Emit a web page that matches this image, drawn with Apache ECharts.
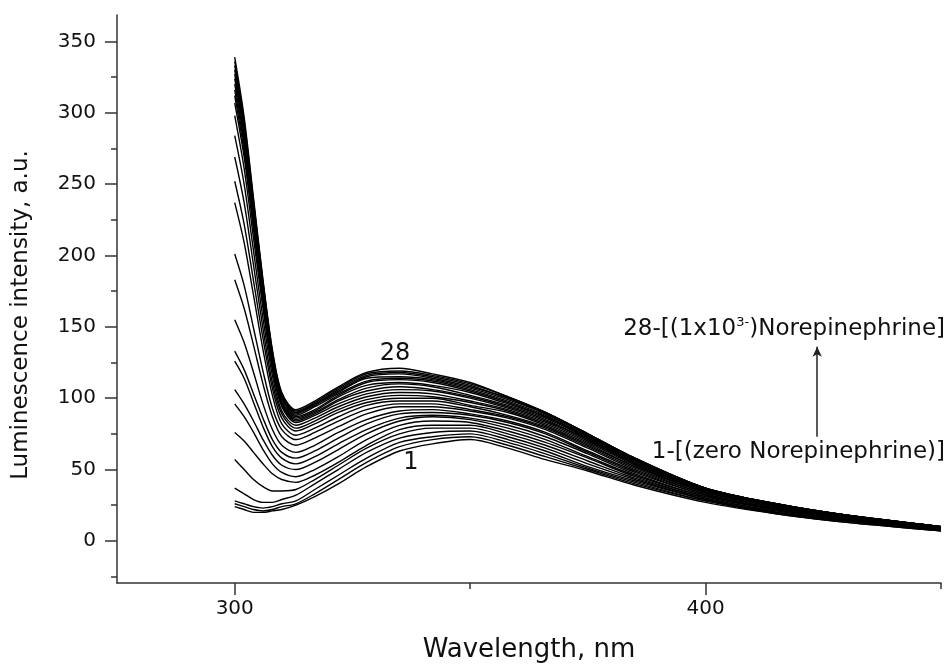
<!DOCTYPE html>
<html>
<head>
<meta charset="utf-8">
<script src="https://cdn.jsdelivr.net/npm/echarts@6/dist/echarts.min.js"></script>
<style>
  html, body { margin: 0; padding: 0; background: #fff; }
  #spectra-chart { width: 952px; height: 667px; }
</style>
</head>
<body>
<div id="spectra-chart"></div>
<script>
// sampled wavelengths (nm) shared by every spectrum
const wavelengths = [300, 302, 304, 306, 308, 310, 313, 317, 322, 328, 335, 342, 350, 358, 366, 375, 385, 400, 415, 430, 450];

// luminescence intensity (a.u.) for spectra 1 (zero) ... 28 (1x10^-3)
const spectra = [
  [24, 22, 20, 20, 21, 22, 25, 31, 40, 52, 63, 68, 71, 65, 57, 49, 39, 27, 19, 13, 7],
  [26, 24, 22, 21, 22, 24, 26, 33, 43, 55, 66, 71, 73, 67, 59, 50, 40, 28, 19, 13, 7],
  [28, 26, 24, 23, 24, 26, 28, 36, 46, 58, 69, 73, 75, 69, 61, 51, 41, 28, 20, 14, 7],
  [37, 33, 29, 27, 27, 29, 32, 40, 50, 62, 72, 76, 77, 71, 63, 52, 42, 29, 20, 14, 8],
  [57, 50, 43, 38, 35, 35, 36, 43, 53, 65, 75, 79, 79, 73, 65, 54, 43, 29, 20, 14, 8],
  [76, 70, 62, 54, 47, 43, 41, 46, 55, 67, 78, 81, 81, 75, 67, 56, 44, 30, 21, 14, 8],
  [96, 87, 76, 64, 54, 48, 45, 50, 59, 71, 81, 84, 83, 77, 69, 58, 45, 30, 21, 14, 8],
  [106, 96, 84, 71, 60, 53, 50, 55, 64, 75, 84, 87, 85, 79, 71, 59, 46, 31, 22, 15, 8],
  [126, 114, 97, 80, 66, 58, 54, 59, 68, 78, 86, 88, 86, 81, 73, 61, 47, 31, 22, 15, 8],
  [133, 120, 103, 86, 71, 62, 58, 63, 72, 82, 89, 90, 88, 83, 75, 62, 48, 32, 22, 15, 8],
  [155, 139, 118, 96, 78, 67, 62, 67, 76, 85, 91, 92, 89, 84, 76, 63, 49, 32, 23, 16, 8],
  [183, 163, 137, 110, 87, 73, 67, 72, 80, 89, 94, 94, 91, 86, 78, 65, 50, 33, 23, 16, 8],
  [201, 179, 149, 119, 93, 78, 71, 76, 84, 92, 96, 96, 92, 87, 79, 66, 51, 33, 23, 16, 9],
  [237, 209, 172, 134, 102, 82, 74, 79, 87, 95, 98, 98, 94, 88, 80, 67, 52, 34, 24, 16, 9],
  [252, 222, 182, 142, 107, 86, 77, 82, 90, 97, 100, 100, 95, 90, 81, 68, 52, 34, 24, 17, 9],
  [269, 237, 193, 149, 111, 89, 79, 84, 92, 99, 102, 101, 97, 91, 82, 69, 53, 34, 24, 17, 9],
  [284, 250, 203, 156, 116, 91, 81, 86, 94, 101, 104, 103, 98, 92, 83, 70, 54, 35, 24, 17, 9],
  [298, 261, 212, 163, 120, 94, 83, 88, 96, 103, 106, 105, 100, 93, 84, 71, 54, 35, 25, 17, 9],
  [307, 269, 218, 167, 122, 95, 84, 89, 98, 105, 108, 106, 101, 94, 85, 71, 55, 35, 25, 17, 9],
  [312, 273, 221, 169, 124, 96, 85, 90, 99, 107, 110, 108, 102, 95, 86, 72, 55, 36, 25, 17, 9],
  [316, 277, 224, 171, 125, 97, 86, 91, 101, 109, 111, 109, 104, 96, 87, 72, 56, 36, 25, 18, 10],
  [320, 280, 227, 173, 127, 98, 87, 92, 102, 111, 113, 111, 105, 97, 87, 73, 56, 36, 25, 18, 10],
  [324, 284, 230, 175, 128, 100, 88, 94, 103, 112, 114, 112, 106, 98, 88, 73, 57, 36, 25, 18, 10],
  [327, 287, 232, 177, 129, 101, 89, 95, 104, 114, 115, 113, 107, 99, 89, 74, 57, 37, 26, 18, 10],
  [330, 289, 234, 179, 131, 102, 90, 96, 105, 115, 117, 114, 108, 100, 89, 74, 57, 37, 26, 18, 10],
  [333, 292, 236, 180, 131, 102, 90, 96, 106, 116, 118, 115, 109, 100, 90, 75, 58, 37, 26, 18, 10],
  [336, 294, 238, 182, 133, 103, 91, 97, 107, 117, 119, 116, 110, 101, 90, 75, 58, 37, 26, 18, 10],
  [339, 297, 240, 183, 134, 104, 92, 98, 108, 118, 121, 117, 111, 101, 90, 75, 58, 37, 26, 18, 10]
];

// tick positions
const xMajorTicks = [300, 400];
const xMinorTicks = [350, 450];
const yMajorTicks = [0, 50, 100, 150, 200, 250, 300, 350];
const yMinorTicks = [-25, 25, 75, 125, 175, 225, 275, 325];

// arrow between the two legend notes (wavelength, intensity)
const arrowFrom = [423.7, 73];
const arrowTo = [423.7, 136];

const chartDom = document.getElementById('spectra-chart');
const chart = echarts.init(chartDom, null, { renderer: 'canvas' });

const FONT = 'DejaVu Sans';
const INK = '#111';
const AXIS = '#333';

const series = spectra.map(function (values, i) {
  const s = {
    name: String(i + 1),
    type: 'line',
    xAxisIndex: 0,
    yAxisIndex: 0,
    data: wavelengths.map(function (w, k) { return [w, values[k]]; }),
    showSymbol: false,
    smooth: 0.3,
    silent: true,
    lineStyle: { color: '#000', width: 1.4 }
  };
  if (i === spectra.length - 1) {
    s.markLine = {
      silent: true,
      symbol: ['none', 'arrow'],
      symbolSize: [7, 10],
      label: { show: false },
      lineStyle: { color: '#222', width: 1.5, type: 'solid' },
      data: [[{ coord: arrowFrom }, { coord: arrowTo }]]
    };
  }
  return s;
});

let option;

option = {
  animation: false,
  backgroundColor: '#fff',
  grid: {
    left: 117,
    right: 11,
    top: 15,
    bottom: 84,
    containLabel: false,
    outerBoundsMode: 'none'
  },
  xAxis: [
    {
      type: 'value',
      min: 275,
      max: 450,
      position: 'bottom',
      name: 'Wavelength, nm',
      nameLocation: 'middle',
      nameGap: 54,
      nameTextStyle: { fontFamily: FONT, fontSize: 26, color: INK },
      axisLine: { show: true, onZero: false, lineStyle: { color: AXIS, width: 1.5 } },
      axisTick: { show: true, length: 12, customValues: xMajorTicks, lineStyle: { color: AXIS, width: 1.5 } },
      axisLabel: { customValues: xMajorTicks, margin: 16, fontFamily: FONT, fontSize: 20, color: INK },
      splitLine: { show: false }
    },
    {
      type: 'value',
      min: 275,
      max: 450,
      position: 'bottom',
      axisLine: { show: false, onZero: false },
      axisTick: { show: true, length: 6, customValues: xMinorTicks, lineStyle: { color: AXIS, width: 1.5 } },
      axisLabel: { show: false },
      splitLine: { show: false }
    }
  ],
  yAxis: [
    {
      type: 'value',
      min: -29.5,
      max: 368.5,
      position: 'left',
      name: 'Luminescence intensity, a.u.',
      nameLocation: 'middle',
      nameGap: 84,
      nameTextStyle: { fontFamily: FONT, fontSize: 23, color: INK, padding: [0, 32, 0, 0] },
      axisLine: { show: true, onZero: false, lineStyle: { color: AXIS, width: 1.5 } },
      axisTick: { show: true, length: 12, customValues: yMajorTicks, lineStyle: { color: AXIS, width: 1.5 } },
      axisLabel: { customValues: yMajorTicks, margin: 21, fontFamily: FONT, fontSize: 20, color: INK },
      splitLine: { show: false }
    },
    {
      type: 'value',
      min: -29.5,
      max: 368.5,
      position: 'left',
      offset: 0,
      axisLine: { show: false, onZero: false },
      axisTick: { show: true, length: 6, customValues: yMinorTicks, lineStyle: { color: AXIS, width: 1.5 } },
      axisLabel: { show: false },
      splitLine: { show: false }
    }
  ],
  graphic: [
    {
      type: 'text', x: 395, y: 354, silent: true,
      style: { text: '28', font: '24px "DejaVu Sans"', fill: INK, align: 'center', verticalAlign: 'middle' }
    },
    {
      type: 'text', x: 411, y: 463, silent: true,
      style: { text: '1', font: '24px "DejaVu Sans"', fill: INK, align: 'center', verticalAlign: 'middle' }
    },
    {
      type: 'text', x: 945, y: 329, silent: true,
      style: {
        text: '28-[(1x10{sup|3-})Norepinephrine]',
        font: '23px "DejaVu Sans"',
        fill: INK,
        align: 'right',
        verticalAlign: 'middle',
        rich: {
          sup: { fontFamily: FONT, fontSize: 13, fill: INK, padding: [0, 0, 13, 0] }
        }
      }
    },
    {
      type: 'text', x: 945, y: 452, silent: true,
      style: { text: '1-[(zero Norepinephrine)]', font: '23px "DejaVu Sans"', fill: INK, align: 'right', verticalAlign: 'middle' }
    }
  ],
  series: series
};

window.addEventListener('resize', function () {
  chart.resize();
});

option && chart.setOption(option);
</script>
</body>
</html>
